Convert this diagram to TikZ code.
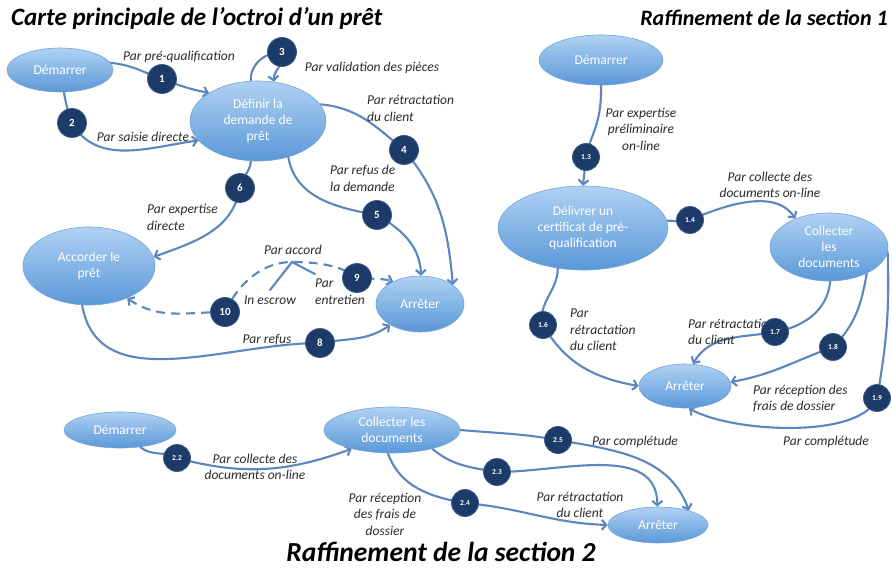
\documentclass[tikz,border=0pt]{standalone}
\usepackage{fontspec}
\setmainfont{Carlito}
\usetikzlibrary{shapes.geometric,arrows.meta}
\definecolor{ellTop}{HTML}{B0D2F3}
\definecolor{ellBot}{HTML}{5A98D8}
\definecolor{ellLine}{HTML}{74A3D8}
\definecolor{lineC}{HTML}{5B86BE}
\definecolor{navy}{HTML}{1D3B68}
\definecolor{navyB}{HTML}{3A5A88}
\definecolor{labelC}{HTML}{2B2B2B}
\pgfdeclarelayer{back}
\pgfdeclarelayer{bg}
\pgfsetlayers{back,bg,main}
\tikzset{
  state/.style={ellipse, draw=ellLine, line width=0.6pt, top color=ellTop, bottom color=ellBot,
    text=white, font=\fontsize{13.5}{16}\selectfont, align=center, inner sep=0pt},
  badge/.style={circle, fill=navy, draw=navyB, line width=0.8pt, text=white, minimum size=29pt,
    inner sep=0pt, font=\bfseries\fontsize{11}{11}\selectfont},
  sbadge/.style={badge, minimum size=27pt, font=\bfseries\fontsize{7.5}{7.5}\selectfont},
  conn/.style={draw=lineC, line width=2.1pt, -{Straight Barb[length=4.5pt,width=10pt]}, line cap=round},
  dconn/.style={conn, dash pattern=on 9pt off 6pt, line cap=butt},
  plain/.style={draw=lineC, line width=2.1pt, line cap=round},
  lbl/.style={font=\itshape\fontsize{13.5}{16.5}\selectfont, text=labelC, inner sep=0pt},
  ttl/.style={font=\bfseries\itshape\fontsize{22}{24}\selectfont, text=black, inner sep=0pt},
}
\begin{document}
\begin{tikzpicture}[x=1pt,y=1pt]
\begin{pgfonlayer}{back}
\fill[white] (0,0) rectangle (892,-578);
\end{pgfonlayer}
\useasboundingbox (0,0) rectangle (892,-578);

% ---------- titles
\node[ttl, font=\bfseries\itshape\fontsize{25}{27}\selectfont, anchor=west] (t0) at (11,-18) {Carte principale de l’octroi d’un prêt};
\node[ttl, anchor=east] (t1) at (888,-18) {Raffinement de la section 1};
\node[ttl, font=\bfseries\itshape\fontsize{27.5}{29}\selectfont] (t2) at (441,-552) {Raffinement de la section 2};

% ---------- main map states
\node[state, minimum width=106pt, minimum height=44pt] (dem) at (60,-70) {Démarrer};
\node[state, minimum width=136pt, minimum height=80pt] (def) at (258,-121) {Définir la\\demande de\\prêt};
\node[state, minimum width=132pt, minimum height=78pt] (acc) at (89,-266) {Accorder le\\prêt};
\node[state, minimum width=88pt, minimum height=56pt] (arr) at (420,-304) {Arrêter};

% ---------- section 1 states
\node[state, minimum width=124pt, minimum height=50pt] (dema) at (601,-60) {Démarrer};
\node[state, minimum width=170pt, minimum height=84pt] (del) at (583,-228) {Délivrer un\\certificat de pré-\\qualification};
\node[state, minimum width=118pt, minimum height=68pt] (cola) at (829,-247) {Collecter\\les\\documents};
\node[state, minimum width=92pt, minimum height=44pt] (arra) at (685,-386) {Arrêter};

% ---------- section 2 states
\node[state, minimum width=112pt, minimum height=36pt] (demb) at (120,-430) {Démarrer};
\node[state, minimum width=136pt, minimum height=46pt] (colb) at (392,-430) {Collecter les\\documents};
\node[state, minimum width=100pt, minimum height=36pt] (arrb) at (658,-525) {Arrêter};

% ---------- labels main
\node[lbl] (l1) at (179,-57) {Par pré-qualification};
\node[lbl] (l2) at (143,-137) {Par saisie directe};
\node[lbl] (l3) at (372,-68) {Par validation des pièces};
\node[lbl, anchor=west, align=left] (l4) at (367,-108.5) {Par rétractation\\du client};
\node[lbl, anchor=west, align=left] (l5) at (330,-178.5) {Par refus de\\la demande};
\node[lbl, anchor=west, align=left] (l6) at (147,-217.5) {Par expertise\\directe};
\node[lbl] (l7) at (293,-250) {Par accord};
\node[lbl] (l10) at (270,-300) {In escrow};
\node[lbl, anchor=west, align=left] (l9) at (315,-291.5) {Par\\entretien};
\node[lbl] (l8) at (267,-340) {Par refus};

% ---------- labels section 1
\node[lbl, align=center] (la3) at (641,-129) {Par expertise\\préliminaire\\on-line};
\node[lbl, align=center] (la4) at (770,-185) {Par collecte des\\documents on-line};
\node[lbl, anchor=west, align=left] (la6) at (570,-330) {Par\\rétractation\\du client};
\node[lbl, anchor=west, align=left] (la7) at (688,-332) {Par rétractation\\du client};
\node[lbl, anchor=west, align=left] (la8) at (753,-398.5) {Par réception des\\frais de dossier};
\node[lbl] (la9) at (826,-442) {Par complétude};

% ---------- labels section 2
\node[lbl, align=center] (lb2) at (255,-467) {Par collecte des\\documents on-line};
\node[lbl, align=center] (lb4) at (385,-514) {Par réception\\des frais de\\dossier};
\node[lbl, align=center] (lb3) at (580,-505) {Par rétractation\\du client};
\node[lbl, anchor=west] (lb5) at (592,-442) {Par complétude};

% ---------- badges main
\node[badge] (b1) at (162,-79) {1};
\node[badge] (b2) at (72,-123) {2};
\node[badge] (b3) at (282,-52) {3};
\node[badge] (b4) at (404,-150) {4};
\node[badge] (b5) at (377,-215) {5};
\node[badge] (b6) at (240,-188) {6};
\node[badge] (b8) at (320,-343) {8};
\node[badge] (b9) at (357,-278) {9};
\node[badge] (b10) at (225,-312) {10};

% ---------- badges section 1
\node[sbadge] (b13) at (586,-157) {1.3};
\node[sbadge] (b14) at (690,-220) {1.4};
\node[sbadge] (b16) at (543,-325) {1.6};
\node[sbadge] (b17) at (775,-332) {1.7};
\node[sbadge] (b18) at (833,-347) {1.8};
\node[sbadge] (b19) at (877,-398) {1.9};

% ---------- badges section 2
\node[sbadge] (b22) at (177,-458) {2.2};
\node[sbadge] (b23) at (497,-472) {2.3};
\node[sbadge] (b24) at (465,-503) {2.4};
\node[sbadge] (b25) at (558,-440) {2.5};

% leader coordinates
\coordinate (vL) at (270,-290);
\coordinate (vP) at (292,-262);
\coordinate (vR) at (315,-274);

\begin{pgfonlayer}{bg}
% main map
\draw[conn] (dem.8) to[out=-5,in=160] (b1.center) to[out=-20,in=170] (def.150);
\draw[conn] (dem.-80) to[out=-80,in=110] (b2.center) to[out=-60,in=188] (def.198);
\draw[conn] (def.100) to[out=95,in=180] (b3.center) to[out=0,in=95] (def.68);
\draw[conn] (def.15) to[out=-5,in=140] (b4.center) to[out=-50,in=95] (arr.30);
\draw[conn] (def.-50) to[out=-80,in=170] (b5.center) to[out=-30,in=92] (arr.88);
\draw[conn] (def.-100) to[out=-95,in=80] (b6.center) to[out=-100,in=20] (acc.8);
\draw[conn] (acc.-100) to[out=-80,in=180] (b8.center) to[out=10,in=215] (arr.215);
\draw[dconn] (b10.center) to[out=180,in=-35] (acc.-40);
\draw[dconn] (b10.center) .. controls (240,-280) and (265,-262) .. (292,-262)
  .. controls (325,-262) and (345,-268) .. (b9.center) to[out=-5,in=165] (arr.140);
\draw[plain] (vL) -- (vP) -- (vR);
% section 1
\draw[conn] (dema.south) .. controls (602,-125) and (590,-135) .. (b13.center) -- (del.north);
\draw[conn] (del.5) to[out=0,in=200] (b14.center) .. controls (725,-205) and (775,-188) .. (cola.140);
\draw[conn] (del.-122) to[out=-90,in=105] (b16.center) to[out=-60,in=170] (arra.west);
\draw[conn] (cola.-88) to[out=-95,in=10] (b17.center) to[out=190,in=60] (arra.70);
\draw[conn] (cola.-35) to[out=-100,in=45] (b18.center) to[out=200,in=10] (arra.5);
\draw[conn] (cola.-5) to[out=-88,in=80] (b19.center) .. controls (860,-440) and (730,-432) .. (arra.-80);
% section 2
\draw[conn] (demb.-40) to[out=-40,in=150] (b22.center) to[out=-15,in=200] (colb.205);
\draw[conn] (colb.-100) to[out=-70,in=170] (b24.center) to[out=-5,in=178] (arrb.west);
\draw[conn] (colb.-25) to[out=-40,in=170] (b23.center) to[out=0,in=90] (arrb.92);
\draw[conn] (colb.east) to[out=-5,in=170] (b25.center) to[out=-10,in=110] (arrb.25);
\end{pgfonlayer}
\end{tikzpicture}
\end{document}
